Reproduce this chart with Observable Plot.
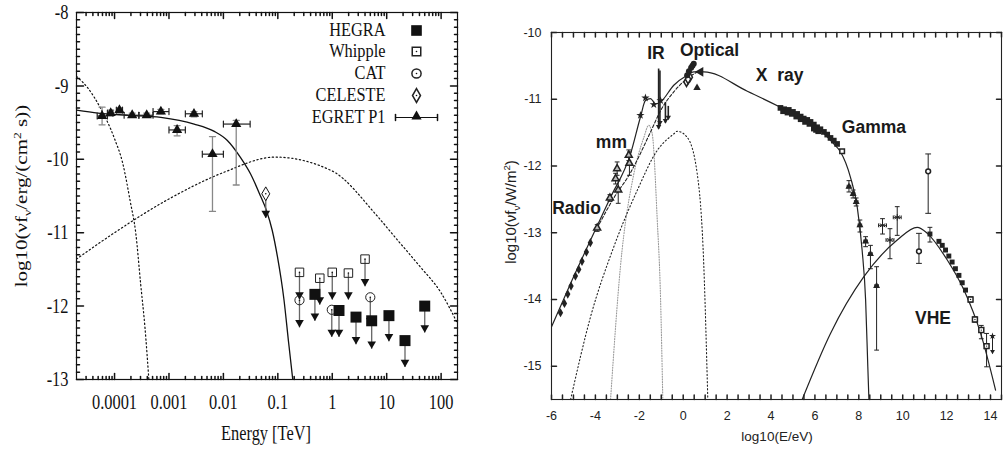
<!DOCTYPE html>
<html><head><meta charset="utf-8">
<script src="https://cdn.jsdelivr.net/npm/d3@7"></script>
<script src="https://cdn.jsdelivr.net/npm/@observablehq/plot@0.6"></script>
<style>
body{margin:0;background:#fff;}
#wrap{position:relative;width:1005px;height:451px;overflow:hidden;background:#fff;}
.panel{position:absolute;top:0;}
.lab{position:absolute;white-space:nowrap;line-height:1;}
.lab sub,.lab sup{font-size:65%;line-height:0;}
</style></head><body>
<div id="wrap">
 <div id="left" class="panel" style="left:0"></div>
 <div id="right" class="panel" style="left:480px"></div>
 <div class="lab" style="left:22px;top:196px;font-family:'Liberation Serif';font-size:21px;color:#111;transform:translate(-50%,-50%) rotate(-90deg) scale(1,0.78)">log10(νf<sub>ν</sub>/erg/(cm<sup>2</sup> s))</div>
 <div class="lab" style="left:266px;top:433px;font-family:'Liberation Serif';font-size:21px;color:#111;transform:translate(-50%,-50%) scale(0.78,1)">Energy [TeV]</div>
 <div class="lab" style="left:510px;top:212px;font-family:'Liberation Sans';font-size:15px;color:#222;transform:translate(-50%,-50%) rotate(-90deg)">log10(νf<sub>ν</sub>/W/m<sup>2</sup>)</div>
 <div class="lab" style="left:777px;top:437px;font-family:'Liberation Sans';font-size:13.5px;color:#222;transform:translate(-50%,-50%)">log10(E/eV)</div>
</div>
<script>
// ---------- LEFT PANEL DATA (Energy in TeV, log10 flux) ----------
const egretE   = [5.9e-5, 8.5e-5, 1.23e-4, 2.11e-4, 3.9e-4, 7.1e-4, 1.41e-3, 2.88e-3, 6.3e-3, 1.72e-2];
const egretF   = [-9.41, -9.37, -9.33, -9.40, -9.40, -9.35, -9.60, -9.38, -9.93, -9.52];
const egretELo = [4.8e-5, 7.4e-5, 1.08e-4, 1.5e-4, 2.8e-4, 5.1e-4, 1.0e-3, 2.0e-3, 4.1e-3, 1.0e-2];
const egretEHi = [7.4e-5, 9.3e-5, 1.4e-4, 2.8e-4, 5.1e-4, 1.0e-3, 2.0e-3, 4.1e-3, 1.0e-2, 3.1e-2];
const egretFLo = [-9.53, -9.41, -9.37, -9.43, -9.43, -9.38, -9.68, -9.42, -10.71, -10.35];
const egretFHi = [-9.29, -9.33, -9.30, -9.37, -9.37, -9.32, -9.54, -9.35, -9.69, -9.47];

const whippleE = [0.25, 0.59, 1.0, 1.98, 4.0];
const whippleF = [-11.54, -11.62, -11.54, -11.55, -11.36];
const whippleTip = [-11.91, -11.98, -11.91, -11.91, -11.73];

const catE = [0.25, 0.98, 5.0];
const catF = [-11.92, -12.05, -11.88];
const catTip = [-12.29, -12.42, -12.26];

const celesteE = [0.06];
const celesteF = [-10.47];
const celesteTip = [-10.80];

const hegraE = [0.48, 1.33, 2.73, 5.3, 11, 21.7, 50];
const hegraF = [-11.84, -12.06, -12.15, -12.20, -12.13, -12.47, -12.00];
const hegraTip = [-12.20, -12.42, -12.52, -12.58, -12.48, -12.83, -12.36];

const modelE = [2.0e-5, 5.0e-5, 1.7e-4, 7.1e-4, 2.9e-3, 6.8e-3, 1.17e-2, 2.04e-2, 3.16e-2, 4.8e-2, 6.2e-2, 7.9e-2, 9.8e-2, 0.129, 0.158, 0.188];
const modelF = [-9.33, -9.37, -9.40, -9.43, -9.52, -9.62, -9.74, -9.97, -10.20, -10.50, -10.70, -10.97, -11.32, -11.90, -12.50, -13.00];

const steepE = [2.0e-5, 3.16e-5, 5.5e-5, 1.0e-4, 1.41e-4, 1.95e-4, 2.45e-4, 3.02e-4, 3.63e-4, 4.27e-4];
const steepF = [-8.87, -9.02, -9.30, -9.72, -10.05, -10.58, -11.00, -11.70, -12.30, -13.00];

const broadE = [2.0e-5, 1.0e-4, 1.0e-3, 1.0e-2, 8.9e-2, 1.0, 6.3, 15.8, 39.8, 100, 195];
const broadF = [-11.36, -11.00, -10.54, -10.18, -9.97, -10.16, -10.75, -11.10, -11.45, -11.82, -12.22];

const leftXTicks = [1e-4, 1e-3, 1e-2, 0.1, 1, 10, 100];
const leftXLabels = ["0.0001", "0.001", "0.01", "0.1", "1", "10", "100"];
const leftYTicks = [-13, -12, -11, -10, -9, -8];

const legendNames = ["HEGRA", "Whipple", "CAT", "CELESTE", "EGRET P1"];

// ---------- RIGHT PANEL DATA (log10 E/eV, log10 flux) ----------
const synE = [-6, -5.06, -4.22, -3.31, -2.40, -1.95, -1.72, -1.49, -1.26, -1.03, -0.43, 0.18, 0.48, 0.94, 2.92, 4.43, 5.95, 6.86, 7.17, 7.62, 7.93, 8.15, 8.31, 8.41, 8.46];
const synF = [-14.41, -13.71, -13.11, -12.47, -11.82, -11.27, -11.02, -10.99, -11.07, -11.04, -10.79, -10.64, -10.59, -10.59, -10.88, -11.12, -11.37, -11.67, -11.79, -12.17, -12.62, -13.26, -14.01, -15.01, -15.50];

const dashE = [-3.92, -3.20, -2.40, -1.50, -1.03, -0.43, 0.18, 0.60];
const dashF = [-12.93, -12.50, -12.10, -11.50, -11.17, -10.89, -10.69, -10.60];

const dotE = [-5.13, -4.22, -3.16, -2.10, -1.19, -0.43, -0.27, 0.18, 0.64, 0.94, 1.12];
const dotF = [-15.50, -14.26, -13.21, -12.37, -11.77, -11.52, -11.48, -11.57, -12.12, -13.51, -15.50];

const grayE = [-3.31, -2.86, -2.25, -1.79, -1.57, -1.41, -1.19, -1.03, -0.93];
const grayF = [-15.50, -13.51, -12.12, -11.57, -11.39, -11.52, -12.76, -14.01, -15.50];

const icE = [5.42, 6.71, 8.23, 9.75, 10.66, 11.12, 12.03, 12.79, 13.55, 14.23];
const icF = [-15.50, -14.51, -13.66, -13.11, -12.92, -13.01, -13.41, -13.86, -14.51, -15.36];

const radioE = [-5.59, -5.41, -5.26, -5.11, -4.91, -4.76, -4.61, -4.41, -4.23];
const radioF = [-14.20, -14.06, -13.92, -13.80, -13.65, -13.55, -13.43, -13.29, -13.15];

const mmE  = [-3.92, -3.34, -3.08, -3.01, -2.96, -2.48, -2.45];
const mmF  = [-12.93, -12.48, -12.19, -12.04, -12.36, -11.84, -11.96];
const mmLo = [-12.98, -12.53, -12.27, -12.14, -12.56, -11.92, -12.14];
const mmHi = [-12.88, -12.43, -12.11, -11.94, -12.21, -11.76, -11.79];

const irE = [-1.95, -1.72, -1.34, -1.03];
const irF = [-11.24, -10.98, -11.08, -11.02];
const irLimE = [-1.12, -1.06, -0.81, -0.68];
const irLimTop = [-10.54, -10.57, -11.04, -11.10];
const irLimBot = [-11.44, -11.38, -11.35, -11.30];

const optE = [0.48, 0.42, 0.36, 0.26, 0.18];
const optF = [-10.47, -10.50, -10.53, -10.58, -10.64];
const optOpenE = [0.15, 0.30, 0.22];
const optOpenF = [-10.74, -10.67, -10.70];
const optTriE = [0.63, 0.79];
const optTriF = [-10.83, -10.59];

const xrayE = [4.43, 4.60, 4.81, 5.00, 5.19, 5.35, 5.49, 5.65, 5.80, 5.95, 6.10, 6.25, 6.41, 6.56, 6.71, 6.86, 7.01, 4.55, 4.75, 4.95, 5.15, 5.35, 5.55, 5.75, 5.95, 6.05, 6.15];
const xrayF = [-11.13, -11.15, -11.16, -11.19, -11.22, -11.26, -11.29, -11.31, -11.34, -11.38, -11.42, -11.45, -11.49, -11.53, -11.58, -11.62, -11.67, -11.18, -11.20, -11.22, -11.26, -11.30, -11.34, -11.37, -11.44, -11.46, -11.48];
const xrayOpenE = [7.24];
const xrayOpenF = [-11.78];

const gamE  = [7.55, 7.74, 7.88, 8.05, 8.31, 8.53, 8.81];
const gamF  = [-12.31, -12.42, -12.54, -12.89, -13.13, -13.32, -13.80];
const gamLo = [-12.39, -12.48, -12.60, -12.99, -13.21, -13.54, -14.76];
const gamHi = [-12.22, -12.36, -12.48, -12.81, -13.06, -13.19, -13.51];

const heE  = [9.08, 9.42, 9.75];
const heF  = [-12.89, -13.11, -12.77];
const heLo = [-13.02, -13.39, -13.04];
const heHi = [-12.79, -12.94, -12.61];

const circE  = [11.16, 10.74];
const circF  = [-12.08, -13.28];
const circLo = [-12.71, -13.46];
const circHi = [-11.82, -13.01];

const vheE = [11.24, 11.65, 11.80, 11.95, 12.10, 12.25, 12.40, 12.56, 12.71, 12.86];
const vheF = [-13.02, -13.13, -13.19, -13.26, -13.35, -13.44, -13.54, -13.64, -13.75, -13.86];
const vheOpenE  = [13.09, 13.29, 13.58, 13.82];
const vheOpenF  = [-14.00, -14.30, -14.46, -14.70];
const vheOpenLo = [-14.04, -14.34, -14.59, -15.01];
const vheOpenHi = [-13.96, -14.26, -14.39, -14.51];
const limE = [14.09], limF = [-14.55], limTip = [-14.81];

const bandLabels = [
  {t: "Radio", x: -4.86, y: -12.64},
  {t: "mm", x: -3.27, y: -11.65},
  {t: "IR", x: -1.24, y: -10.31},
  {t: "Optical", x: 1.20, y: -10.27},
  {t: "X\u00a0\u00a0ray", x: 4.39, y: -10.64},
  {t: "Gamma", x: 8.69, y: -11.42},
  {t: "VHE", x: 11.38, y: -14.29}
];
const rightXLabels = [-6, -4, -2, 0, 2, 4, 6, 8, 10, 12, 14];
const rightYLabels = [-15, -14, -13, -12, -11, -10];

// ---------- helpers ----------
const tick = {draw(ctx, l) { ctx.moveTo(0, 0); ctx.lineTo(0, -l); }};
const idx = a => d3.range(a.length);
function ticksX(vals, len, stroke) {
  return [
    Plot.vector(vals, {x: d => d, frameAnchor: "bottom", length: len, anchor: "start", shape: tick, stroke, rotate: 0}),
    Plot.vector(vals, {x: d => d, frameAnchor: "top", length: len, anchor: "start", shape: tick, stroke, rotate: 180})
  ];
}
function ticksY(vals, len, stroke) {
  return [
    Plot.vector(vals, {y: d => d, frameAnchor: "left", length: len, anchor: "start", shape: tick, stroke, rotate: 90}),
    Plot.vector(vals, {y: d => d, frameAnchor: "right", length: len, anchor: "start", shape: tick, stroke, rotate: -90})
  ];
}
function errY(xs, lo, hi, stroke, cap, sw = 1) {
  const I = idx(xs);
  return [
    Plot.link(I, {x1: i => xs[i], x2: i => xs[i], y1: i => lo[i], y2: i => hi[i], stroke, strokeWidth: sw}),
    Plot.vector(I, {x: i => xs[i], y: i => lo[i], rotate: 90, length: cap, anchor: "middle", shape: tick, stroke, strokeWidth: sw}),
    Plot.vector(I, {x: i => xs[i], y: i => hi[i], rotate: 90, length: cap, anchor: "middle", shape: tick, stroke, strokeWidth: sw})
  ];
}
function errX(ys, lo, hi, stroke, cap, sw = 1) {
  const I = idx(ys);
  return [
    Plot.link(I, {y1: i => ys[i], y2: i => ys[i], x1: i => lo[i], x2: i => hi[i], stroke, strokeWidth: sw}),
    Plot.vector(I, {y: i => ys[i], x: i => lo[i], rotate: 0, length: cap, anchor: "middle", shape: tick, stroke, strokeWidth: sw}),
    Plot.vector(I, {y: i => ys[i], x: i => hi[i], rotate: 0, length: cap, anchor: "middle", shape: tick, stroke, strokeWidth: sw})
  ];
}
function upperLimits(xs, ys, tips, r) {
  const I = idx(xs);
  return [
    Plot.link(I, {x1: i => xs[i], x2: i => xs[i], y1: i => ys[i], y2: i => tips[i], stroke: "#666", strokeWidth: 1.3}),
    Plot.dot(I, {x: i => xs[i], y: i => tips[i], symbol: "triangle", rotate: 180, r, fill: "#111", stroke: "none", dy: -r * 1.5})
  ];
}
const line = (xs, ys, o) => Plot.line(idx(xs), {x: i => xs[i], y: i => ys[i], curve: "monotone-x", clip: true, ...o});

// left ticks
const leftXMinor = [];
for (let e = -5; e <= 2; e++) for (let k = 2; k <= 9; k++) { const v = k * Math.pow(10, e); if (v > 2e-5 && v < 200) leftXMinor.push(v); }
const leftYMinor = d3.range(-130, -80).filter(v => v % 10 !== 0).map(v => v / 10);

const L = "#111";
const LEG = 18.5;
const leftMarks = [
  ...ticksX(leftXTicks, 6, L), ...ticksX(leftXMinor, 3, L),
  ...ticksY(leftYTicks, 7, L), ...ticksY(leftYMinor, 3, L),
  Plot.axisX(leftXTicks, {anchor: "bottom", tickSize: 0, tickPadding: 15, fontSize: 21, tickFormat: d => leftXLabels[leftXTicks.indexOf(d)], label: null, fill: L}),
  Plot.axisY(leftYTicks, {anchor: "left", tickSize: 0, tickPadding: 8, fontSize: 21, tickFormat: d => String(d), label: null, fill: L}),
  line(steepE, steepF, {stroke: L, strokeWidth: 1.2, strokeDasharray: "1.3,2.6"}),
  line(broadE, broadF, {stroke: L, strokeWidth: 1.2, strokeDasharray: "1.3,2.6"}),
  line(modelE, modelF, {stroke: L, strokeWidth: 1.3}),
  ...errY(egretE, egretFLo, egretFHi, "#888", 6, 1.3),
  ...errX(egretF, egretELo, egretEHi, "#222", 6, 1.2),
  Plot.dot(idx(egretE), {x: i => egretE[i], y: i => egretF[i], symbol: "triangle", r: 3.8, fill: L}),
  ...upperLimits(celesteE, celesteF, celesteTip, 3.2),
  Plot.dot(idx(celesteE), {x: i => celesteE[i], y: i => celesteF[i], symbol: "diamond", r: 4.2, stroke: L, fill: "white", strokeWidth: 1}),
  Plot.dot(idx(celesteE), {x: i => celesteE[i], y: i => celesteF[i], r: 0.8, fill: L}),
  ...upperLimits(whippleE, whippleF, whippleTip, 3.2),
  ...upperLimits(catE, catF, catTip, 3.2),
  ...upperLimits(hegraE, hegraF, hegraTip, 3.2),
  Plot.dot(idx(whippleE), {x: i => whippleE[i], y: i => whippleF[i], symbol: "square", r: 4.8, stroke: "#222", fill: "none", strokeWidth: 1}),
  Plot.dot(idx(whippleE), {x: i => whippleE[i], y: i => whippleF[i], r: 0.8, fill: L}),
  Plot.dot(idx(catE), {x: i => catE[i], y: i => catF[i], r: 4.6, stroke: "#222", fill: "none", strokeWidth: 1}),
  Plot.dot(idx(catE), {x: i => catE[i], y: i => catF[i], r: 0.8, fill: L}),
  Plot.dot(idx(hegraE), {x: i => hegraE[i], y: i => hegraF[i], symbol: "square", r: 6.2, fill: L}),
  // legend
  ...legendNames.map((n, i) => Plot.text([n], {frameAnchor: "top-right", dx: -72, dy: 18 + [0, 21, 43, 65, 87][i], text: d => d, textAnchor: "end", lineAnchor: "middle", fontSize: LEG, fill: L})),
  Plot.dot([0], {frameAnchor: "top-right", dx: -41, dy: 18, symbol: "square", r: 6, fill: L}),
  Plot.dot([0], {frameAnchor: "top-right", dx: -41, dy: 39, symbol: "square", r: 4.8, stroke: "#222", fill: "none"}),
  Plot.dot([0], {frameAnchor: "top-right", dx: -41, dy: 39, r: 0.8, fill: L}),
  Plot.dot([0], {frameAnchor: "top-right", dx: -41, dy: 61, r: 4.6, stroke: "#222", fill: "none"}),
  Plot.dot([0], {frameAnchor: "top-right", dx: -41, dy: 61, r: 0.8, fill: L}),
  Plot.dot([0], {frameAnchor: "top-right", dx: -41, dy: 83, symbol: "diamond", r: 4.2, stroke: "#222", fill: "none"}),
  Plot.dot([0], {frameAnchor: "top-right", dx: -41, dy: 83, r: 0.8, fill: L}),
  Plot.vector([0], {frameAnchor: "top-right", dx: -62, dy: 105, rotate: 90, length: 42, anchor: "start", shape: tick, stroke: L, strokeWidth: 1.2}),
  Plot.vector([0], {frameAnchor: "top-right", dx: -62, dy: 105, rotate: 0, length: 6, anchor: "middle", shape: tick, stroke: L}),
  Plot.vector([0], {frameAnchor: "top-right", dx: -20, dy: 105, rotate: 0, length: 6, anchor: "middle", shape: tick, stroke: L}),
  Plot.dot([0], {frameAnchor: "top-right", dx: -41, dy: 104, symbol: "triangle", r: 3.8, fill: L}),
  Plot.frame({stroke: L, strokeWidth: 1.2})
];

const left = Plot.plot({
  width: 470, height: 451, marginLeft: 76, marginRight: 13, marginTop: 12, marginBottom: 72,
  x: {type: "log", domain: [2e-5, 200], axis: null},
  y: {domain: [-13, -8], axis: null},
  style: {fontFamily: "Liberation Serif", fontSize: "21px", color: L, background: "white", overflow: "visible"},
  marks: leftMarks
});
// condense horizontal text like the reference
left.querySelectorAll("text").forEach(t => {
  const x = parseFloat(t.getAttribute("x") || 0) || 0;
  const holder = t.closest("[font-size]");
  const fs = holder ? parseFloat(holder.getAttribute("font-size")) : 21;
  const s = fs < 20 ? 0.885 : 0.78;
  const tr = t.getAttribute("transform") || "";
  t.setAttribute("transform", `${tr} translate(${x},0) scale(${s},1) translate(${-x},0)`);
});
document.getElementById("left").appendChild(left);

// ---------- RIGHT PANEL ----------
const R = "#222";
const rightXTicks = d3.range(-12, 30).map(v => v / 2);
const rightMarks = [
  ...ticksX(rightXTicks, 4.5, R),
  ...ticksY(rightYLabels, 5, R),
  Plot.axisX(rightXLabels, {anchor: "bottom", tickSize: 0, tickPadding: 12, fontSize: 12.5, tickFormat: d => String(d), label: null, fill: R}),
  Plot.axisY(rightYLabels, {anchor: "left", tickSize: 0, tickPadding: 10, fontSize: 12.5, tickFormat: d => String(d), label: null, fill: R}),
  line(grayE, grayF, {stroke: "#999", strokeWidth: 1.1, strokeDasharray: "1,1.6"}),
  line(dotE, dotF, {stroke: R, strokeWidth: 1.1, strokeDasharray: "1.2,2.4"}),
  line(dashE, dashF, {stroke: R, strokeWidth: 1.1, strokeDasharray: "3,2"}),
  line(synE, synF, {stroke: R, strokeWidth: 1.2}),
  line(icE, icF, {stroke: R, strokeWidth: 1.2}),
  // radio
  Plot.dot(idx(radioE), {x: i => radioE[i], y: i => radioF[i], symbol: "diamond", r: 2.8, fill: R}),
  // mm
  ...errY(mmE, mmLo, mmHi, R, 4),
  Plot.dot(idx(mmE), {x: i => mmE[i], y: i => mmF[i], symbol: "triangle", r: 2.6, stroke: R, fill: "#bbb"}),
  // IR
  Plot.link(idx(irLimE), {x1: i => irLimE[i], x2: i => irLimE[i], y1: i => irLimTop[i], y2: i => irLimBot[i], stroke: R, strokeWidth: 1.6}),
  Plot.dot(idx(irLimE), {x: i => irLimE[i], y: i => irLimBot[i], symbol: "triangle", rotate: 180, r: 2, fill: R, dy: -2}),
  Plot.dot(idx(irE), {x: i => irE[i], y: i => irF[i], symbol: "star", r: 2.6, fill: R}),
  // optical
  Plot.dot(idx(optOpenE), {x: i => optOpenE[i], y: i => optOpenF[i], symbol: "diamond", r: 2.8, stroke: R, fill: "white"}),
  Plot.dot(idx(optE), {x: i => optE[i], y: i => optF[i], r: 3, fill: R}),
  Plot.dot(idx(optTriE), {x: i => optTriE[i], y: i => optTriF[i], symbol: "triangle", r: [1.8, 3], fill: R, rotate: [0, -90]}),
  // X-ray
  Plot.dot(idx(xrayE), {x: i => xrayE[i], y: i => xrayF[i], symbol: "square", r: 3.2, fill: R}),
  Plot.dot(idx(xrayOpenE), {x: i => xrayOpenE[i], y: i => xrayOpenF[i], symbol: "square", r: 2.6, stroke: R, fill: "white"}),
  // gamma
  ...errY(gamE, gamLo, gamHi, R, 4),
  ...errX(gamF, gamE.map(v => v - 0.08), gamE.map(v => v + 0.08), R, 3),
  Plot.dot(idx(gamE), {x: i => gamE[i], y: i => gamF[i], symbol: "triangle", r: 2.6, fill: R}),
  ...errY(heE, heLo, heHi, R, 4),
  ...errX(heF, heE.map(v => v - 0.18), heE.map(v => v + 0.18), R, 3),
  Plot.dot(idx(heE), {x: i => heE[i], y: i => heF[i], symbol: "asterisk", r: 3, stroke: R, strokeWidth: 1}),
  ...errY(circE, circLo, circHi, R, 5),
  Plot.dot(idx(circE), {x: i => circE[i], y: i => circF[i], r: 2.4, stroke: R, fill: "white"}),
  // VHE
  ...errY(vheOpenE, vheOpenLo, vheOpenHi, R, 4),
  ...errY([vheE[0]], [-13.14], [-12.92], R, 4),
  Plot.dot(idx(vheE), {x: i => vheE[i], y: i => vheF[i], symbol: "square", r: 2.8, fill: R}),
  Plot.dot(idx(vheOpenE), {x: i => vheOpenE[i], y: i => vheOpenF[i], symbol: "square", r: 2.8, stroke: R, fill: "white"}),
  Plot.dot(idx(vheOpenE), {x: i => vheOpenE[i], y: i => vheOpenF[i], r: 0.7, fill: R}),
  Plot.link(idx(limE), {x1: i => limE[i], x2: i => limE[i], y1: i => limF[i], y2: i => limTip[i], stroke: R}),
  Plot.dot(idx(limE), {x: i => limE[i], y: i => limTip[i], symbol: "triangle", rotate: 180, r: 1.8, fill: R, dy: -2}),
  Plot.dot(idx(limE), {x: i => limE[i], y: i => limF[i], symbol: "star", r: 2.2, fill: R}),
  // band labels
  Plot.text(bandLabels, {x: "x", y: "y", text: "t", fontWeight: "bold", fontSize: 17.5, fill: "#1a1a1a", lineAnchor: "middle"}),
  Plot.frame({stroke: R, strokeWidth: 1.1})
];
const right = Plot.plot({
  width: 525, height: 451, marginLeft: 71, marginRight: 4, marginTop: 32, marginBottom: 52,
  x: {domain: [-6, 14.5], axis: null},
  y: {domain: [-15.5, -10], axis: null},
  style: {fontFamily: "Liberation Sans", fontSize: "12.5px", color: R, background: "white", overflow: "visible"},
  marks: rightMarks
});
document.getElementById("right").appendChild(right);
</script>
</body></html>
